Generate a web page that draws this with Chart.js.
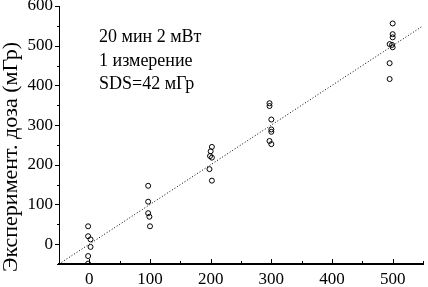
<!DOCTYPE html>
<html><head><meta charset="utf-8">
<script src="https://cdn.jsdelivr.net/npm/chart.js@4/dist/chart.umd.min.js"></script>
<style>html,body{margin:0;padding:0;background:#fff;}#wrap{width:428px;height:287px;position:relative;}</style>
</head><body><div id="wrap"><canvas id="c" width="428" height="287"></canvas></div>
<script>
// Nominal dose (x) and measured dose (y) for each measurement
const measuredX = [-2, -2, 2, 2, -2, -2,
                   97, 97, 97, 99, 100,
                   202, 200, 199, 202, 198, 202,
                   297, 297, 300, 300, 300, 297, 300,
                   500, 500, 500, 495, 499, 500, 495, 495];
const measuredY = [45, 20, 12, -7, -30, -49,
                   147, 107, 78, 69, 45,
                   245, 234, 222, 218, 189, 160,
                   355, 348, 314, 289, 283, 260, 252,
                   556, 529, 521, 504, 502, 496, 456, 416];
const fitX = [-50, 550];
const fitSlope = 1.0;
const xRange = [-50, 550];
const yRange = [-50, 600];
const tickStep = 50;
const labelStep = 100;
const annotationLines = ['20 мин 2 мВт', '1 измерение', 'SDS=42 мГр'];
const yTitle = 'Эксперимент. доза (мГр)';

const FONT = '"Liberation Serif", "Times New Roman", serif';

const points = measuredX.map((x, i) => ({x: x, y: measuredY[i]}));
const fitLine = fitX.map(x => ({x: x, y: fitSlope * x}));

const tickPlugin = {
  id: 'ticksAndText',
  afterDraw(chart) {
    const ctx = chart.ctx;
    const xs = chart.scales.x, ys = chart.scales.y;
    const ca = chart.chartArea;
    ctx.save();
    ctx.strokeStyle = '#000';
    ctx.lineWidth = 1;
    // x ticks: inward
    xs.ticks.forEach(t => {
      const px = Math.round(xs.getPixelForValue(t.value)) + 0.5;
      const len = (t.value % labelStep === 0) ? 5 : 3;
      ctx.beginPath(); ctx.moveTo(px, ca.bottom); ctx.lineTo(px, ca.bottom - len); ctx.stroke();
    });
    // y ticks: outward
    ys.ticks.forEach(t => {
      const py = Math.round(ys.getPixelForValue(t.value)) + 0.5;
      const len = (t.value % labelStep === 0) ? 4 : 2;
      ctx.beginPath(); ctx.moveTo(ca.left, py); ctx.lineTo(ca.left - len, py); ctx.stroke();
    });
    // annotation text
    ctx.fillStyle = '#000';
    ctx.font = '18px ' + FONT;
    ctx.textAlign = 'left';
    ctx.textBaseline = 'alphabetic';
    annotationLines.forEach((s, i) => {
      ctx.fillText(s, ca.left + 40, ca.top + 36 + i * 23.5);
    });
    // y title
    ctx.font = '22px ' + FONT;
    ctx.translate(17, 157);
    ctx.rotate(-Math.PI / 2);
    ctx.textAlign = 'center';
    ctx.textBaseline = 'alphabetic';
    ctx.fillText(yTitle, 0, 0);
    ctx.restore();
  }
};

new Chart(document.getElementById('c'), {
  type: 'scatter',
  data: {
    datasets: [
      {
        data: points,
        showLine: false,
        pointRadius: 2.5,
        pointBorderWidth: 1,
        pointBorderColor: '#000',
        pointBackgroundColor: 'rgba(255,255,255,0)',
        pointStyle: 'circle'
      },
      {
        data: fitLine,
        showLine: true,
        borderColor: '#000',
        borderWidth: 1,
        borderDash: [1, 2],
        pointRadius: 0,
        fill: false
      }
    ]
  },
  options: {
    responsive: false,
    animation: false,
    events: [],
    layout: {padding: {top: 6, right: 0, left: 0, bottom: 0}},
    plugins: {legend: {display: false}, tooltip: {enabled: false}, title: {display: false}},
    scales: {
      x: {
        type: 'linear',
        min: xRange[0], max: xRange[1],
        grid: {display: false, drawTicks: false},
        border: {display: true, color: '#000', width: 2},
        ticks: {
          stepSize: tickStep, color: '#000', padding: 5,
          font: {family: FONT, size: 17},
          maxRotation: 0, autoSkip: false,
          callback: v => (v % labelStep === 0 && v >= 0) ? String(v) : ''
        },
        afterFit: s => { s.height = 23; s.paddingLeft = 0; s.paddingRight = 0; }
      },
      y: {
        type: 'linear',
        min: yRange[0], max: yRange[1],
        grid: {display: false, drawTicks: false},
        border: {display: true, color: '#000', width: 1},
        ticks: {
          stepSize: tickStep, color: '#000', padding: 6,
          font: {family: FONT, size: 17},
          autoSkip: false,
          callback: v => (v % labelStep === 0 && v >= 0) ? String(v) : ''
        },
        afterFit: s => { s.width = 59; s.paddingTop = 0; s.paddingBottom = 0; }
      }
    }
  },
  plugins: [tickPlugin]
});
</script>
</body></html>
